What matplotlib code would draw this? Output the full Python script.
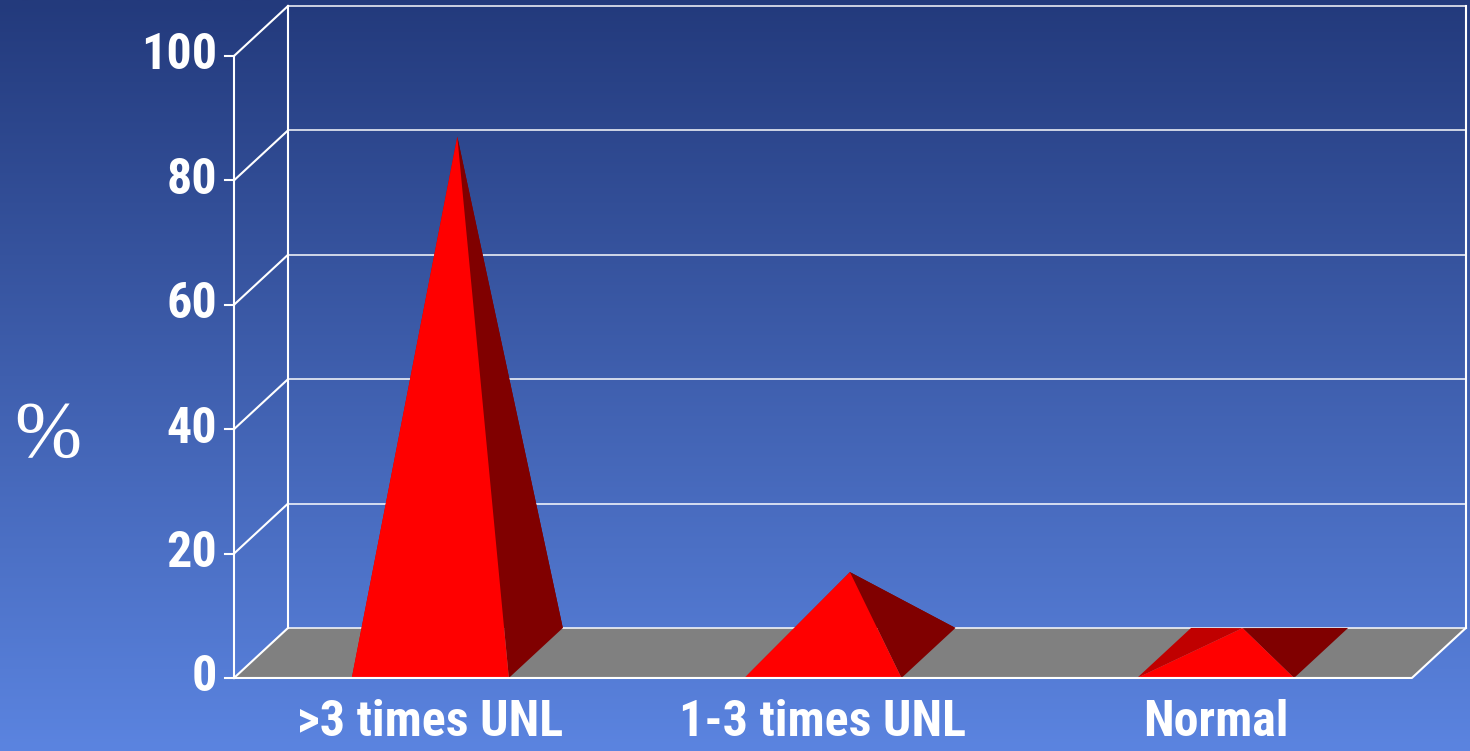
import numpy as np
import matplotlib
matplotlib.use("Agg")
import matplotlib.pyplot as plt
from matplotlib.patches import Polygon
from matplotlib.colors import LinearSegmentedColormap

# --- data ---
categories = [">3 times UNL", "1-3 times UNL", "Normal"]
values = [83, 13, 4]
y_ticks = [0, 20, 40, 60, 80, 100]

# --- oblique 3D look ---
DX = 0.1375      # depth shift in category units
DY = 8.04        # depth shift in value units
BASE_W = 0.40    # pyramid base width
XMIN, XMAX = -0.596, 3.148
YMIN, YMAX = -11.74, 109.0

FRONT = "#ff0000"
RIGHT = "#800000"
LEFT = "#c00000"
WHITE = "white"
SANS = ["Roboto Condensed", "PT Sans Narrow", "Liberation Sans"]


def P(x, v, d):
    """project (x, value, depth 0..1) onto the page"""
    return (x + d * DX, v + d * DY)


fig = plt.figure(figsize=(14.7, 7.51), dpi=100)
ax = fig.add_axes([0, 0, 1, 1])
ax.set_xlim(XMIN, XMAX)
ax.set_ylim(YMIN, YMAX)
ax.axis("off")

# background gradient
cmap = LinearSegmentedColormap.from_list("bg", ["#5b84e0", "#233a7c"])
grad = np.linspace(0, 1, 256).reshape(-1, 1)
ax.imshow(grad, extent=(XMIN, XMAX, YMIN, YMAX), origin="lower",
          cmap=cmap, aspect="auto", zorder=0)

n = len(categories)

# floor
floor = Polygon([P(0, 0, 0), P(n, 0, 0), P(n, 0, 1), P(0, 0, 1)],
                closed=True, facecolor="#808080", edgecolor="none", zorder=1)
ax.add_patch(floor)

# back wall gridlines + left wall diagonals
for t in y_ticks:
    xs, ys = zip(P(0, t, 1), P(n, t, 1))
    ax.plot(xs, ys, color=WHITE, lw=1.2, alpha=0.9, zorder=2)
    xs, ys = zip(P(0, t, 0), P(0, t, 1))
    ax.plot(xs, ys, color=WHITE, lw=1.5, zorder=2)
    ax.plot([-0.023, 0], [t, t], color=WHITE, lw=1.5, zorder=2)
    ax.text(-0.043, t, str(t), ha="right", va="center", color=WHITE,
            fontsize=36, fontweight="bold", family=SANS, zorder=5)

# vertical wall edges
for x, d in [(0, 0), (0, 1), (n, 1)]:
    xs, ys = zip(P(x, 0, d), P(x, y_ticks[-1], d))
    ax.plot(xs, ys, color=WHITE, lw=1.5, zorder=2)

# floor front and right edges
xs, ys = zip(P(0, 0, 0), P(n, 0, 0), P(n, 0, 1))
ax.plot(xs, ys, color=WHITE, lw=1.5, zorder=6)

# pyramids
for i, (cat, v) in enumerate(zip(categories, values)):
    c = i + 0.5
    l, r = c - BASE_W / 2, c + BASE_W / 2
    apex = P(c, v, 0.5)
    fl, fr = P(l, 0, 0), P(r, 0, 0)
    bl, br = P(l, 0, 1), P(r, 0, 1)
    ax.add_patch(Polygon([bl, br, apex], facecolor=RIGHT, edgecolor="none", zorder=3))
    ax.add_patch(Polygon([fl, bl, apex], facecolor=LEFT, edgecolor="none", zorder=3))
    ax.add_patch(Polygon([fr, br, apex], facecolor=RIGHT, edgecolor="none", zorder=4))
    ax.add_patch(Polygon([fl, fr, apex], facecolor=FRONT, edgecolor="none", zorder=4))
    ax.text(c, -9.4, cat, ha="center", va="baseline", color=WHITE,
            fontsize=36, fontweight="bold", family=SANS, zorder=5)

# axis label
ax.text(-0.474, 38.7, "%", ha="center", va="center", color=WHITE,
        fontsize=58, family=["Liberation Serif", "DejaVu Serif"], zorder=5)

fig.savefig("out.png", dpi=100)
